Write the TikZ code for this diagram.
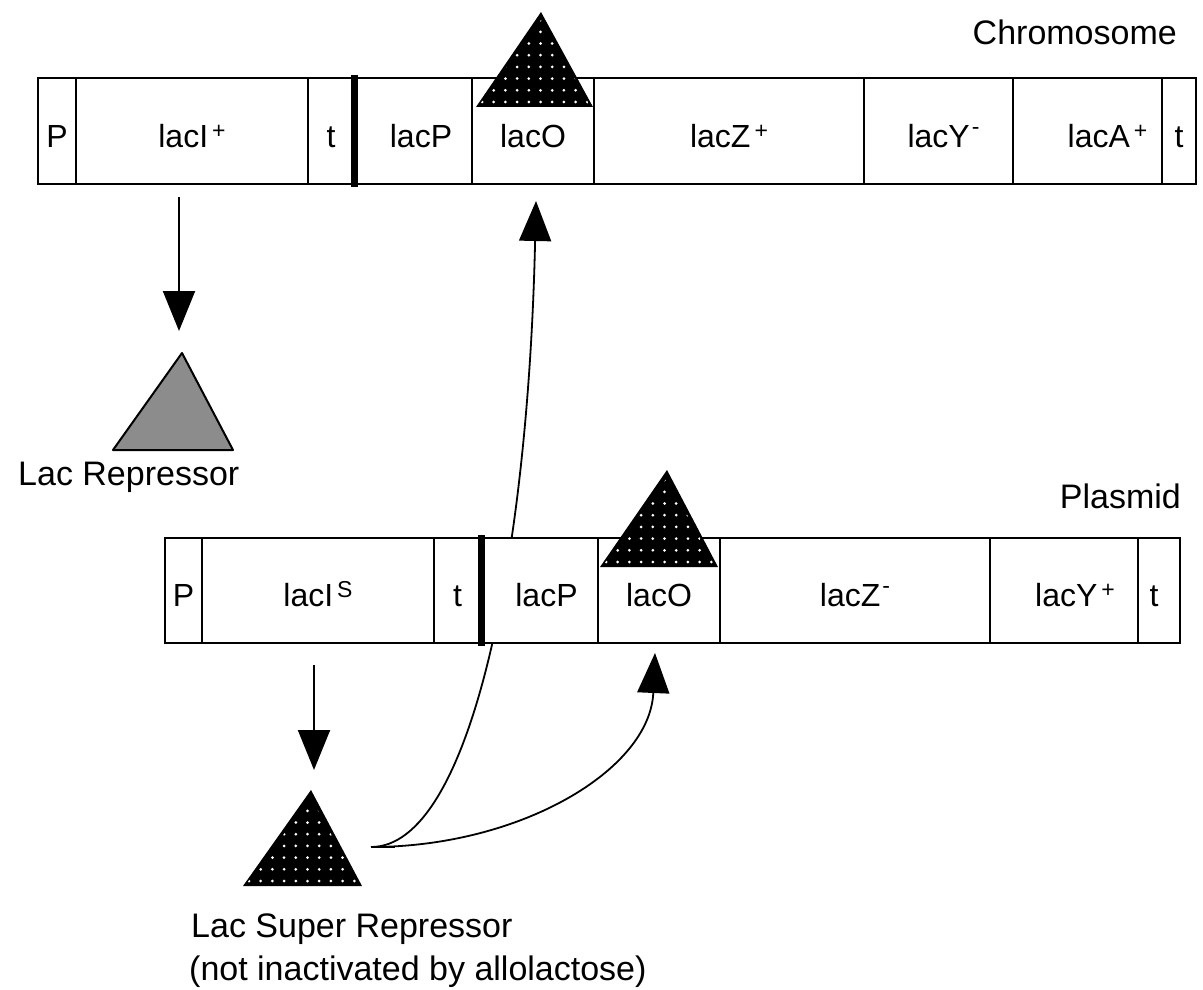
\documentclass[tikz,border=0pt]{standalone}
\usepackage{fontspec}
\setmainfont{Liberation Sans}
\usetikzlibrary{arrows.meta}
\newcommand\Up[1]{\hspace{4pt}\raisebox{9pt}{\fontsize{23pt}{23pt}\selectfont #1}}
\newcommand\Dn{\hspace{2pt}\raisebox{13pt}{\fontsize{23pt}{23pt}\selectfont -}}
\newcommand\DotTri[5]{%
  \fill[black] (#1,#3) -- (#2,#3) -- (#4,#5) -- cycle;
  \begin{scope}
    \clip (#1+4,#3-3) -- (#2-4,#3-3) -- (#4,#5+8) -- cycle;
    \foreach \i in {0,...,11}{\foreach \j in {0,...,9}{%
      \fill[white] ({#1+6+\i*11.7},{#3-5-\j*11.7}) circle (1.5pt);}}
  \end{scope}}
\begin{document}
\begin{tikzpicture}[x=1pt,y=-1pt,
  cell/.style={draw, line width=2pt, fill=white, minimum height=106pt,
    inner sep=0pt, outer sep=0pt, font=\fontsize{32pt}{32pt}\selectfont,
    text height=33pt, text depth=1pt, anchor=west},
  thickbar/.style={line width=7pt},
  conn/.style={line width=1.8pt},
  arr/.style={line width=2pt, -{Triangle[length=40pt,width=32pt]}},
  lbl/.style={inner sep=0pt, font=\fontsize{34pt}{34pt}\selectfont}]
\useasboundingbox (0,0) rectangle (1203,990);
\fill[white] (0,0) rectangle (1203,990);

% connectors from super repressor
\coordinate (srR) at (371,847);
\coordinate (chrTip) at (536,201);
\coordinate (plTip) at (655,653);
\draw[conn] (srR) -- (395,847);
\draw[arr, line width=1.8pt] (srR) .. controls (470,847) and (528,560) .. (chrTip);
\draw[arr, line width=1.8pt] (srR) .. controls (520,847) and (650,770) .. (plTip);

% chromosome
\node[cell, minimum width=38pt, anchor=north west] (cP) at (38,78) {P};
\node[cell, minimum width=232pt] (cI) at (cP.east) {lacI\Up{+}};
\node[cell, minimum width=46pt] (ct1) at (cI.east) {t};
\node[cell, minimum width=118pt] (cLP) at (ct1.east) {\hspace*{16pt}lacP};
\node[cell, minimum width=122pt] (cLO) at (cLP.east) {lacO};
\node[cell, minimum width=270pt] (cZ) at (cLO.east) {lacZ\Up{+}};
\node[cell, minimum width=149pt] (cY) at (cZ.east) {\hspace*{10pt}lacY\Dn};
\node[cell, minimum width=149pt] (cA) at (cY.east) {\hspace*{40pt}lacA\Up{+}};
\node[cell, minimum width=34pt] (ct2) at (cA.east) {t};
\draw[thickbar] ([yshift=3pt]ct1.north east) -- ([yshift=-3pt]ct1.south east);

% plasmid
\node[cell, minimum width=37pt, minimum height=105pt, anchor=north west] (pP) at (165,538) {P};
\node[cell, minimum width=232pt, minimum height=105pt] (pI) at (pP.east) {lacI\Up{S}};
\node[cell, minimum width=47pt, minimum height=105pt] (pt1) at (pI.east) {t};
\node[cell, minimum width=117pt, minimum height=105pt] (pLP) at (pt1.east) {\hspace*{14pt}lacP};
\node[cell, minimum width=122pt, minimum height=105pt] (pLO) at (pLP.east) {lacO};
\node[cell, minimum width=270pt, minimum height=105pt] (pZ) at (pLO.east) {lacZ\Dn};
\node[cell, minimum width=148pt, minimum height=105pt] (pY) at (pZ.east) {\hspace*{22pt}lacY\Up{+}};
\node[cell, minimum width=42pt, minimum height=105pt] (pt2) at (pY.east) {t\hspace*{10pt}};
\draw[thickbar] ([yshift=3pt]pt1.north east) -- ([yshift=-3pt]pt1.south east);

% repressors bound to operators
\DotTri{476}{593}{107}{541}{12}
\DotTri{600}{718}{567}{667}{470}

% arrows from lacI genes
\coordinate (iA) at (179,197);
\coordinate (iB) at (179,331);
\draw[arr] (iA) -- (iB);
\coordinate (sA) at (314,665);
\coordinate (sB) at (314,770);
\draw[arr] (sA) -- (sB);

% lac repressor (grey)
\filldraw[fill=black!45, draw=black, line width=2pt, line join=round] (113,450) -- (233,450) -- (182,353) -- cycle;
% super repressor
\DotTri{243}{362}{886}{311}{790}

% labels
\node[lbl, anchor=base east] (chrl) at (1177,45) {Chromosome};
\node[lbl, anchor=base east] (plal) at (1181,508) {Plasmid};
\node[lbl, anchor=base west] (repl) at (18,485) {Lac Repressor};
\node[lbl, anchor=base west] (sr1) at (191,937) {Lac Super Repressor};
\node[lbl, anchor=base west] (sr2) at (189,980) {(not inactivated by allolactose)};
\end{tikzpicture}
\end{document}
